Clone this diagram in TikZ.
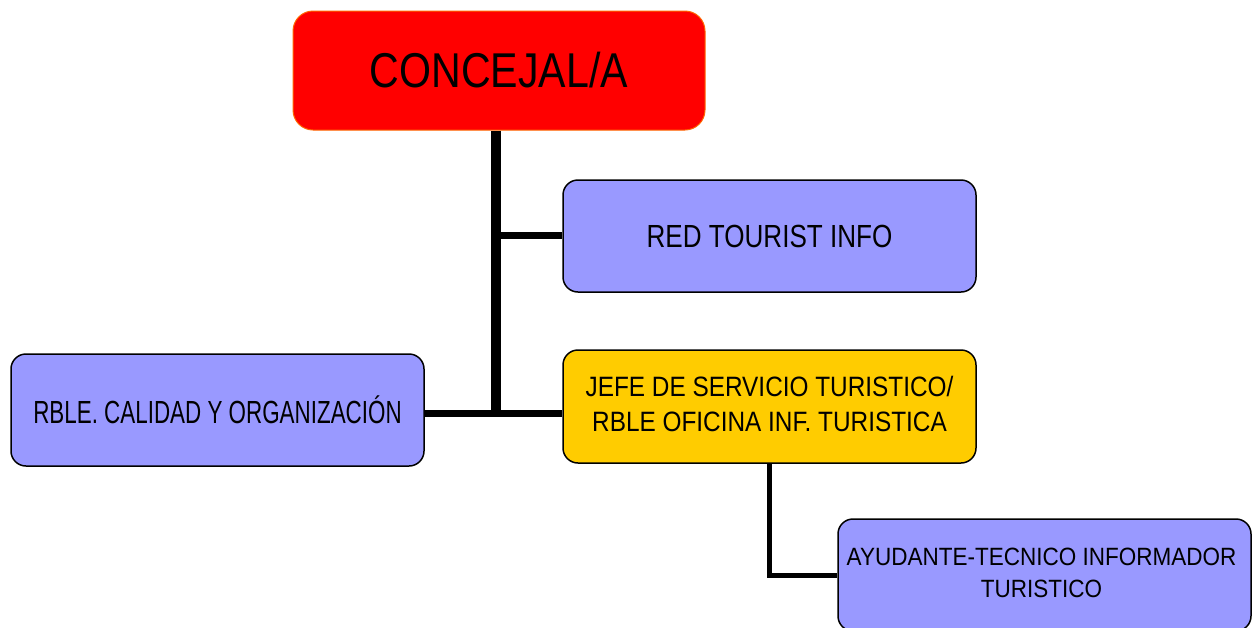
\documentclass[tikz,border=0pt]{standalone}
\usepackage{fontspec}
\setmainfont{Liberation Sans}
\usetikzlibrary{positioning}
\definecolor{boxred}{HTML}{FF0000}
\definecolor{boxblue}{HTML}{9999FF}
\definecolor{boxgold}{HTML}{FFCC00}
\definecolor{redborder}{HTML}{FF6600}
\tikzset{
  orgbox/.style={draw=black, line width=1.5pt, rounded corners=15pt,
    minimum width=413pt, minimum height=112pt, inner sep=0pt, align=center},
  bluebox/.style={orgbox, fill=boxblue},
  goldbox/.style={orgbox, fill=boxgold},
  topbox/.style={draw=redborder, line width=1pt, fill=boxred, rounded corners=20pt,
    minimum width=412pt, minimum height=119pt, inner sep=0pt},
  trunk/.style={line width=10pt},
  hline/.style={line width=7pt},
  thinline/.style={line width=5pt},
}
\begin{document}
\begin{tikzpicture}[x=1pt,y=1pt]
\useasboundingbox (0,0) rectangle (1252,-627);
% nodes
\node[topbox] (conc) at (499,-70.5)
  {\scalebox{0.875}[1.04]{\fontsize{47}{56}\selectfont CONCEJAL/A}};
\node[bluebox] (red) at (769.5,-236)
  {\scalebox{0.815}[1]{\fontsize{32}{38}\selectfont RED TOURIST INFO}};
\node[goldbox, minimum height=113pt] (jefe) at (769.5,-406.5)
  {\scalebox{0.87}[1]{\fontsize{28}{35}\selectfont\begin{tabular}{@{}c@{}}JEFE DE SERVICIO TURISTICO/\\RBLE OFICINA INF. TURISTICA\end{tabular}}};
\node[bluebox] (left) at (217.5,-410)
  {\scalebox{0.70}[1]{\fontsize{32}{38}\selectfont RBLE. CALIDAD Y ORGANIZACIÓN}};
\node[bluebox] (ayu) at (1044.5,-575)
  {\raisebox{-4pt}{\hspace*{-6pt}\scalebox{0.90}[1]{\fontsize{25}{32}\selectfont\begin{tabular}{@{}c@{}}AYUDANTE-TECNICO INFORMADOR\\TURISTICO\end{tabular}}}};
% junction coordinates
\coordinate (jA) at (496,-235.5);
\coordinate (jB) at (496,-413);
\coordinate (jT) at (496,-416.5);
% connectors
\draw[trunk] (conc.south -| jT) -- (jT);
\draw[hline] (jA) -- (red.west |- jA);
\draw[hline] (left.east |- jB) -- (jefe.west |- jB);
\draw[thinline] (jefe.south) |- (ayu.west);
\end{tikzpicture}
\end{document}
